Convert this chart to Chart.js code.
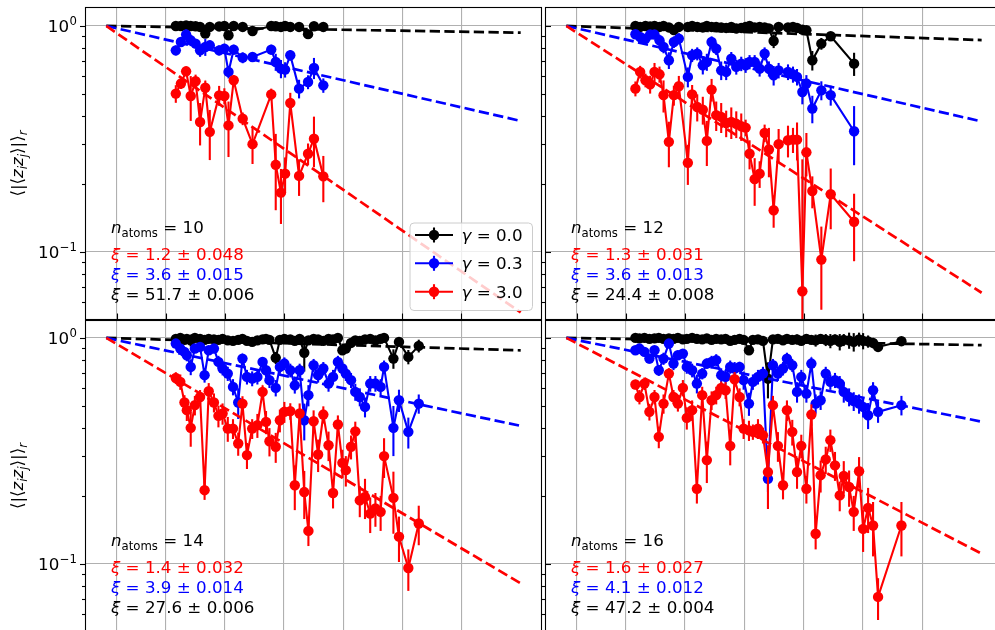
<!DOCTYPE html>
<html><head><meta charset="utf-8">
<script src="https://cdn.jsdelivr.net/npm/chart.js@4.4.1/dist/chart.umd.min.js"></script>
<style>
html,body{margin:0;padding:0;background:#fff;overflow:hidden;}
#fig{position:relative;width:995px;height:630px;overflow:hidden;background:#fff;}
canvas{position:absolute;}
</style></head><body>
<div id="fig">
<canvas id="c1" width="545" height="320" style="left:0;top:0"></canvas>
<canvas id="c3" width="545" height="312" style="left:0;top:320px"></canvas>
<canvas id="c2" width="475" height="320" style="left:535px;top:0"></canvas>
<canvas id="c4" width="475" height="312" style="left:535px;top:320px"></canvas>
</div>
<script>
// ---------- data ----------
const xTicks = [0.09, 0.5, 1.0, 1.5, 2.0, 2.5, 3.0];
const yMajorTicks = [0.1, 1];
const yMinorTicks = [0.06, 0.07, 0.08, 0.09, 0.2, 0.3, 0.4, 0.5, 0.6, 0.7, 0.8, 0.9];
const fitR = [0, 3.5];
const gammaLabels = ['0.0', '0.3', '3.0'];
const nAtoms = [10, 12, 14, 16];
const xiRed = ['1.2 ± 0.048', '1.3 ± 0.031', '1.4 ± 0.032', '1.6 ± 0.027'];
const xiBlue = ['3.6 ± 0.015', '3.6 ± 0.013', '3.9 ± 0.014', '4.1 ± 0.012'];
const xiBlack = ['51.7 ± 0.006', '24.4 ± 0.008', '27.6 ± 0.006', '47.2 ± 0.004'];

// panel 1 (n=10)
const p1Dist = [0.587,0.630,0.674,0.713,0.754,0.792,0.836,0.874,0.953,0.997,1.032,1.076,1.152,1.235,1.393,1.431,1.475,1.510,1.554,1.628,1.704,1.754,1.833];
const p1Black = [1.0,1.0,1.005,1.0,0.997,0.99,0.925,0.99,0.995,1.0,0.91,1.0,0.99,0.95,1.0,0.997,0.99,1.0,0.99,0.99,0.92,0.997,0.99];
const p1BlackErr = [0.02,0.03,0.04,0.02,0.03,0.02,0.03,0.02,0.02,0.02,0.04,0.03,0.02,0.02,0.02,0.03,0.02,0.02,0.02,0.02,0.02,0.02,0.02];
const p1Blue = [0.780,0.849,0.916,0.864,0.835,0.780,0.807,0.821,0.780,0.794,0.626,0.786,0.724,0.729,0.786,0.693,0.647,0.641,0.742,0.528,0.565,0.652,0.546];
const p1BlueErr = [0.04,0.04,0.05,0.05,0.04,0.05,0.07,0.04,0.04,0.04,0.04,0.04,0.04,0.03,0.04,0.06,0.06,0.05,0.04,0.05,0.04,0.07,0.04];
const p1Red = [0.502,0.556,0.630,0.490,0.569,0.376,0.533,0.340,0.493,0.490,0.363,0.575,0.389,0.300,0.498,0.243,0.183,0.222,0.456,0.217,0.272,0.317,0.216];
const p1RedErr = [0.045,0.03,0.03,0.11,0.04,0.08,0.04,0.085,0.05,0.04,0.1,0.03,0.025,0.055,0.03,0.09,0.05,0.04,0.05,0.04,0.03,0.08,0.05];
const p1FitEnd = [0.934, 0.38, 0.054];

// panel 2 (n=12)
const p2Dist = [0.582,0.622,0.667,0.706,0.743,0.785,0.819,0.864,0.906,0.948,1.024,1.060,1.103,1.150,1.184,1.224,1.263,1.305,1.347,1.390,1.432,1.474,1.511,1.544,1.587,1.629,1.671,1.707,1.747,1.789,1.868,1.910,1.944,1.989,2.023,2.073,2.149,2.228,2.425];
const p2Black = [1.0,0.99,1.0,0.995,1.0,0.99,1.0,0.985,0.96,0.99,0.99,1.0,0.99,0.985,1.0,0.99,0.99,0.985,0.98,0.99,0.975,0.98,0.99,1.0,0.985,0.99,0.985,0.975,0.858,0.99,0.985,0.99,0.98,0.963,0.957,0.705,0.835,0.9,0.681];
const p2BlackErr = [0.02,0.03,0.03,0.03,0.03,0.03,0.03,0.04,0.04,0.03,0.03,0.03,0.03,0.03,0.03,0.03,0.03,0.03,0.03,0.03,0.03,0.03,0.03,0.03,0.03,0.03,0.03,0.03,0.06,0.03,0.04,0.04,0.04,0.04,0.04,0.07,0.05,0.04,0.08];
const p2Blue = [0.919,0.894,0.879,0.916,0.916,0.864,0.807,0.705,0.849,0.879,0.595,0.742,0.754,0.670,0.693,0.849,0.794,0.636,0.626,0.717,0.659,0.681,0.670,0.693,0.693,0.647,0.754,0.647,0.605,0.636,0.626,0.611,0.595,0.510,0.556,0.431,0.519,0.494,0.342];
const p2BlueErr = [0.04,0.04,0.04,0.04,0.04,0.05,0.05,0.06,0.05,0.05,0.06,0.05,0.05,0.06,0.06,0.05,0.05,0.06,0.05,0.05,0.05,0.05,0.05,0.05,0.05,0.05,0.05,0.05,0.06,0.05,0.05,0.05,0.05,0.06,0.05,0.06,0.05,0.05,0.1];
const p2Red = [0.528,0.626,0.575,0.552,0.626,0.611,0.494,0.307,0.494,0.541,0.248,0.498,0.438,0.426,0.310,0.523,0.403,0.396,0.372,0.376,0.369,0.360,0.355,0.272,0.210,0.222,0.336,0.284,0.153,0.300,0.312,0.314,0.314,0.067,0.276,0.186,0.0925,0.180,0.136];
const p2RedErr = [0.04,0.04,0.04,0.05,0.06,0.05,0.08,0.07,0.05,0.06,0.05,0.05,0.06,0.06,0.07,0.06,0.06,0.06,0.05,0.06,0.05,0.05,0.03,0.04,0.05,0.03,0.03,0.07,0.025,0.05,0.05,0.04,0.06,0.19,0.06,0.03,0.037,0.054,0.045];
const p2FitEnd = [0.866, 0.378, 0.066];

// panel 3 (n=14)
const p3Dist = [0.587,0.625,0.660,0.680,0.713,0.748,0.792,0.830,0.865,0.909,0.947,0.982,1.026,1.070,1.114,1.150,1.188,1.232,1.276,1.320,1.349,1.378,1.431,1.466,1.504,1.554,1.592,1.633,1.672,1.707,1.751,1.789,1.833,1.877,1.915,1.956,1.994,2.023,2.067,2.103,2.141,2.185,2.229,2.273,2.317,2.346,2.425,2.472,2.551,2.639];
const p3Black = [0.99,1.0,0.98,0.99,0.975,1.0,0.99,0.98,0.99,0.985,0.98,0.99,0.975,0.97,0.98,0.99,0.97,0.96,0.975,0.985,0.99,0.98,0.816,0.98,0.99,0.985,0.97,0.99,0.86,0.975,0.99,0.985,0.97,0.99,0.985,1.0,0.882,0.897,0.95,0.975,0.97,0.985,0.99,0.975,0.99,1.0,0.81,0.96,0.824,0.922];
const p3BlackErr = [0.03,0.03,0.04,0.03,0.06,0.03,0.03,0.03,0.04,0.03,0.03,0.03,0.04,0.03,0.03,0.03,0.04,0.04,0.03,0.03,0.03,0.03,0.05,0.03,0.03,0.03,0.04,0.03,0.15,0.03,0.03,0.03,0.04,0.03,0.03,0.03,0.04,0.04,0.04,0.03,0.03,0.03,0.03,0.03,0.03,0.03,0.08,0.04,0.06,0.06];
const p3Blue = [0.944,0.897,0.867,0.838,0.744,0.897,0.912,0.684,0.882,0.897,0.783,0.732,0.695,0.607,0.518,0.810,0.672,0.661,0.672,0.783,0.719,0.650,0.601,0.744,0.770,0.719,0.617,0.719,0.432,0.558,0.757,0.684,0.732,0.628,0.672,0.783,0.732,0.695,0.650,0.577,0.548,0.495,0.628,0.628,0.607,0.744,0.400,0.530,0.384,0.512];
const p3BlueErr = [0.03,0.04,0.04,0.05,0.06,0.04,0.04,0.05,0.04,0.04,0.05,0.05,0.05,0.05,0.08,0.04,0.05,0.05,0.05,0.04,0.05,0.05,0.05,0.05,0.05,0.05,0.05,0.05,0.08,0.06,0.05,0.05,0.05,0.05,0.05,0.05,0.05,0.05,0.05,0.05,0.05,0.05,0.05,0.05,0.05,0.05,0.1,0.06,0.06,0.05];
const p3Red = [0.665,0.639,0.518,0.479,0.400,0.504,0.548,0.212,0.581,0.518,0.452,0.463,0.397,0.397,0.341,0.512,0.303,0.397,0.411,0.577,0.425,0.349,0.330,0.432,0.471,0.474,0.223,0.463,0.208,0.140,0.428,0.305,0.458,0.335,0.206,0.414,0.280,0.260,0.330,0.386,0.191,0.198,0.167,0.176,0.170,0.300,0.196,0.132,0.096,0.151];
const p3RedErr = [0.04,0.05,0.04,0.05,0.07,0.05,0.04,0.02,0.05,0.05,0.05,0.05,0.05,0.04,0.04,0.04,0.04,0.04,0.05,0.04,0.05,0.05,0.05,0.05,0.05,0.04,0.05,0.05,0.05,0.02,0.05,0.05,0.04,0.05,0.03,0.04,0.04,0.04,0.04,0.04,0.03,0.04,0.03,0.03,0.03,0.06,0.06,0.03,0.02,0.03];
const p3FitEnd = [0.881, 0.408, 0.082];

// panel 4 (n=16)
const p4Dist = [0.582,0.616,0.658,0.700,0.743,0.779,0.819,0.864,0.903,0.940,0.982,1.015,1.060,1.100,1.145,1.184,1.224,1.263,1.305,1.342,1.381,1.418,1.460,1.494,1.539,1.572,1.615,1.657,1.699,1.741,1.783,1.826,1.859,1.904,1.944,1.980,2.023,2.065,2.101,2.143,2.186,2.225,2.264,2.304,2.338,2.383,2.422,2.467,2.501,2.543,2.585,2.627,2.824];
const p4Black = [1.0,0.995,1.0,0.99,0.995,1.0,0.99,0.995,0.99,1.0,0.985,0.99,1.0,0.99,0.985,0.995,0.98,0.99,0.985,0.99,0.97,0.98,0.99,0.98,0.882,0.98,0.985,0.97,0.66,0.985,0.99,0.975,0.99,0.98,0.985,0.97,0.99,0.98,0.975,0.99,0.98,0.97,0.985,0.96,0.98,0.975,0.96,0.985,0.97,0.965,0.95,0.912,0.967];
const p4BlackErr = [0.02,0.02,0.03,0.03,0.02,0.03,0.03,0.03,0.03,0.03,0.04,0.03,0.03,0.03,0.03,0.04,0.03,0.03,0.04,0.03,0.04,0.03,0.03,0.04,0.04,0.03,0.03,0.04,0.12,0.03,0.04,0.04,0.03,0.04,0.05,0.04,0.05,0.04,0.06,0.05,0.06,0.07,0.05,0.08,0.06,0.08,0.09,0.07,0.08,0.06,0.05,0.04,0.03];
const p4Blue = [0.882,0.897,0.867,0.810,0.882,0.719,0.810,0.944,0.770,0.838,0.852,0.744,0.719,0.628,0.695,0.770,0.783,0.797,0.684,0.672,0.744,0.732,0.744,0.650,0.512,0.639,0.672,0.695,0.238,0.757,0.695,0.732,0.810,0.757,0.577,0.672,0.567,0.770,0.512,0.530,0.695,0.639,0.650,0.628,0.577,0.548,0.525,0.512,0.495,0.455,0.587,0.471,0.504];
const p4BlueErr = [0.04,0.04,0.04,0.04,0.04,0.04,0.05,0.04,0.05,0.04,0.04,0.05,0.05,0.06,0.04,0.04,0.05,0.05,0.05,0.05,0.05,0.05,0.04,0.06,0.06,0.05,0.05,0.05,0.03,0.05,0.05,0.05,0.05,0.05,0.06,0.05,0.05,0.05,0.05,0.05,0.05,0.05,0.05,0.05,0.06,0.05,0.05,0.05,0.05,0.06,0.05,0.05,0.05];
const p4Red = [0.622,0.548,0.628,0.471,0.548,0.365,0.512,0.695,0.548,0.512,0.601,0.443,0.479,0.215,0.558,0.288,0.530,0.558,0.601,0.587,0.333,0.656,0.548,0.397,0.390,0.384,0.397,0.371,0.255,0.504,0.333,0.223,0.479,0.384,0.255,0.333,0.215,0.458,0.136,0.247,0.290,0.353,0.273,0.201,0.245,0.219,0.170,0.257,0.143,0.177,0.148,0.0715,0.148];
const p4RedErr = [0.03,0.04,0.04,0.04,0.04,0.04,0.05,0.04,0.04,0.04,0.05,0.05,0.05,0.03,0.05,0.06,0.05,0.05,0.04,0.05,0.06,0.05,0.05,0.04,0.04,0.03,0.04,0.03,0.08,0.05,0.05,0.03,0.05,0.05,0.04,0.04,0.03,0.05,0.02,0.04,0.04,0.04,0.04,0.03,0.04,0.04,0.03,0.04,0.03,0.04,0.04,0.015,0.04];
const p4FitEnd = [0.929, 0.426, 0.111];

// ---------- styling ----------
const COLORS = ['#000000', '#0000ff', '#ff0000'];
const FF = '"DejaVu Sans", "Liberation Sans", sans-serif';
const FS = 16.7, SUB = 11.7;
function fnt(sz, it) { return (it ? 'italic ' : '') + sz + 'px ' + FF; }

function drawRuns(ctx, x, y, parts, color) {
  ctx.fillStyle = color; ctx.textAlign = 'left'; ctx.textBaseline = 'alphabetic';
  let cx = x;
  for (const p of parts) {
    ctx.font = p.f; ctx.fillText(p.t, cx, y + (p.dy || 0));
    cx += ctx.measureText(p.t).width;
  }
  return cx - x;
}
function runsWidth(ctx, parts) {
  let w = 0;
  for (const p of parts) { ctx.font = p.f; w += ctx.measureText(p.t).width; }
  return w;
}

const PANELS = {
  c1: {idx: 0, left: true, top: true, legend: true},
  c2: {idx: 1, left: false, top: true, legend: false},
  c3: {idx: 2, left: true, top: false, legend: false},
  c4: {idx: 3, left: false, top: false, legend: false}
};

function tickLabel(ctx, xr, y, sup) {
  ctx.fillStyle = '#000'; ctx.textAlign = 'left'; ctx.textBaseline = 'alphabetic';
  ctx.font = fnt(SUB, false); const ws = ctx.measureText(sup).width;
  ctx.font = fnt(FS, false); const wb = ctx.measureText('10').width;
  ctx.fillText('10', xr - ws - wb - 0.5, y + 6.5);
  ctx.font = fnt(SUB, false); ctx.fillText(sup, xr - ws, y - 0.5);
}

const deco = {
  id: 'deco',
  beforeDatasetDraw(chart, args) {
    const ds = chart.data.datasets[args.index];
    if (!ds.errs) return;
    const ctx = chart.ctx, a = chart.chartArea, xs = chart.scales.x, ys = chart.scales.y;
    ctx.save();
    ctx.beginPath(); ctx.rect(a.left, a.top, a.right - a.left, a.bottom - a.top); ctx.clip();
    ctx.strokeStyle = ds.borderColor; ctx.lineWidth = 2.1; ctx.lineCap = 'butt';
    ds.data.forEach((p, i) => {
      const e = ds.errs[i];
      const px = xs.getPixelForValue(p.x);
      const y1 = ys.getPixelForValue(p.y + e);
      const lo = p.y - e;
      const y2 = lo > 0 ? ys.getPixelForValue(lo) : a.bottom + 20;
      ctx.beginPath(); ctx.moveTo(px, y1); ctx.lineTo(px, y2); ctx.stroke();
    });
    ctx.restore();
  },
  afterDatasetsDraw(chart) {
    const P = PANELS[chart.canvas.id];
    const ctx = chart.ctx, a = chart.chartArea, xs = chart.scales.x, ys = chart.scales.y;
    ctx.save();
    // frame
    ctx.strokeStyle = '#000'; ctx.lineWidth = 1.1;
    ctx.strokeRect(a.left + 0.5, a.top + 0.5, a.right - a.left - 1, a.bottom - a.top - 1);
    // y ticks
    for (const v of yMajorTicks.concat(yMinorTicks)) {
      const major = yMajorTicks.includes(v);
      const py = Math.round(ys.getPixelForValue(v)) + 0.5;
      if (py < a.top || py > a.bottom) continue;
      ctx.beginPath();
      if (P.left) { const L = major ? 5 : 3; ctx.moveTo(a.left - L, py); ctx.lineTo(a.left, py); }
      else if (major) { ctx.moveTo(a.left, py); ctx.lineTo(a.left + 6, py); }
      else { ctx.moveTo(a.left - 4, py); ctx.lineTo(a.left, py); }
      ctx.stroke();
    }
    // x ticks (inward at bottom of top panels)
    if (P.top) {
      for (const v of xTicks) {
        const px = Math.round(xs.getPixelForValue(v)) + 0.5;
        ctx.beginPath(); ctx.moveTo(px, a.bottom - 6.5); ctx.lineTo(px, a.bottom); ctx.stroke();
      }
    }
    // tick labels + y title
    if (P.left) {
      tickLabel(ctx, a.left - 8, ys.getPixelForValue(1), '0');
      tickLabel(ctx, a.left - 8, ys.getPixelForValue(0.1), '\u22121');
      const parts = [
        {t: '\u27E8|\u27E8', f: fnt(FS, false)},
        {t: 'z', f: fnt(FS, true)}, {t: 'i', f: fnt(SUB, true), dy: 3.5},
        {t: 'z', f: fnt(FS, true)}, {t: 'j', f: fnt(SUB, true), dy: 3.5},
        {t: '\u27E9|\u27E9', f: fnt(FS, false)},
        {t: 'r', f: fnt(SUB, true), dy: 3.5}
      ];
      const w = runsWidth(ctx, parts);
      ctx.save();
      ctx.translate(23, (a.top + a.bottom) / 2);
      ctx.rotate(-Math.PI / 2);
      drawRuns(ctx, -w / 2, 0, parts, '#000');
      ctx.restore();
    }
    // annotations
    const k = P.idx, ax = a.left + 26, at = a.top;
    drawRuns(ctx, ax, at + 225.8, [
      {t: 'n', f: fnt(FS, true)}, {t: 'atoms', f: fnt(SUB, false), dy: 4},
      {t: ' = ' + nAtoms[k], f: fnt(FS, false)}], '#000000');
    drawRuns(ctx, ax, at + 253.2, [{t: '\u03BE', f: fnt(FS, true)}, {t: ' = ' + xiRed[k], f: fnt(FS, false)}], '#ff0000');
    drawRuns(ctx, ax, at + 272.8, [{t: '\u03BE', f: fnt(FS, true)}, {t: ' = ' + xiBlue[k], f: fnt(FS, false)}], '#0000ff');
    drawRuns(ctx, ax, at + 292.5, [{t: '\u03BE', f: fnt(FS, true)}, {t: ' = ' + xiBlack[k], f: fnt(FS, false)}], '#000000');
    // legend
    if (P.legend) {
      const bx = a.left + 325, by = a.top + 216, bw = 122.5, bh = 87.5, r = 4;
      ctx.beginPath();
      ctx.moveTo(bx + r, by); ctx.lineTo(bx + bw - r, by); ctx.arcTo(bx + bw, by, bx + bw, by + r, r);
      ctx.lineTo(bx + bw, by + bh - r); ctx.arcTo(bx + bw, by + bh, bx + bw - r, by + bh, r);
      ctx.lineTo(bx + r, by + bh); ctx.arcTo(bx, by + bh, bx, by + bh - r, r);
      ctx.lineTo(bx, by + r); ctx.arcTo(bx, by, bx + r, by, r); ctx.closePath();
      ctx.fillStyle = 'rgba(255,255,255,0.8)'; ctx.fill();
      ctx.strokeStyle = '#cccccc'; ctx.lineWidth = 1; ctx.stroke();
      const rows = [228, 256.3, 284.7];
      rows.forEach((ry, i) => {
        const cy = a.top + ry, c = COLORS[i];
        ctx.strokeStyle = c; ctx.fillStyle = c; ctx.lineWidth = 2.1;
        ctx.beginPath(); ctx.moveTo(a.left + 330, cy); ctx.lineTo(a.left + 368, cy); ctx.stroke();
        ctx.beginPath(); ctx.moveTo(a.left + 349, cy - 7.5); ctx.lineTo(a.left + 349, cy + 7.5); ctx.stroke();
        ctx.beginPath(); ctx.arc(a.left + 349, cy, 5.2, 0, Math.PI * 2); ctx.fill();
        drawRuns(ctx, a.left + 376.5, cy + 6, [{t: '\u03B3', f: fnt(FS, true)}, {t: ' = ' + gammaLabels[i], f: fnt(FS, false)}], '#000000');
      });
    }
    ctx.restore();
  }
};

function makeChart(id, dist, vals, errs, fitEnd, opt) {
  const datasets = [];
  const orders = [[6, 5], [4, 3], [2, 1]];
  for (let i = 0; i < 3; i++) {
    const c = COLORS[i];
    datasets.push({
      label: '\u03B3 = ' + gammaLabels[i],
      data: dist.map((x, j) => ({x: x, y: vals[i][j]})),
      errs: errs[i],
      borderColor: c, backgroundColor: c, borderWidth: 2.1,
      pointRadius: 5.2, pointHoverRadius: 5.2, pointBackgroundColor: c, pointBorderColor: c, pointBorderWidth: 0,
      tension: 0, order: orders[i][0]
    });
    datasets.push({
      label: 'fit ' + gammaLabels[i],
      data: fitR.map((x, j) => ({x: x, y: j === 0 ? 1 : fitEnd[i]})),
      borderColor: c, borderWidth: 2.7, borderDash: [10.3, 4.4], pointRadius: 0, pointHoverRadius: 0,
      tension: 0, order: orders[i][1]
    });
  }
  return new Chart(document.getElementById(id), {
    type: 'line',
    data: {datasets},
    plugins: [deco],
    options: {
      responsive: false, animation: false, devicePixelRatio: 1, events: [],
      layout: {autoPadding: false, padding: {top: opt.padTop, right: opt.padRight, left: 0, bottom: 0}},
      plugins: {legend: {display: false}, tooltip: {enabled: false}},
      scales: {
        x: {
          type: 'linear', min: -0.18, max: 3.68,
          ticks: {display: false},
          grid: {color: '#b0b0b0', lineWidth: 1.1, drawTicks: false},
          border: {display: false},
          afterBuildTicks: s => { s.ticks = xTicks.map(v => ({value: v})); },
          afterFit: s => { s.height = 0; }
        },
        y: {
          type: 'logarithmic', min: 0.05, max: opt.ymax,
          ticks: {display: false},
          grid: {
            color: c => (c.tick && yMajorTicks.includes(c.tick.value)) ? '#b0b0b0' : 'rgba(0,0,0,0)',
            lineWidth: 1.1, drawTicks: false
          },
          border: {display: false},
          afterBuildTicks: s => { s.ticks = yMajorTicks.concat(yMinorTicks).map(v => ({value: v})); },
          afterFit: s => { s.width = opt.yWidth; }
        }
      }
    }
  });
}

makeChart('c1', p1Dist, [p1Black, p1Blue, p1Red], [p1BlackErr, p1BlueErr, p1RedErr], p1FitEnd,
  {padTop: 7, padRight: 3, yWidth: 85, ymax: 1.213});
makeChart('c2', p2Dist, [p2Black, p2Blue, p2Red], [p2BlackErr, p2BlueErr, p2RedErr], p2FitEnd,
  {padTop: 7, padRight: 7, yWidth: 10, ymax: 1.213});
makeChart('c3', p3Dist, [p3Black, p3Blue, p3Red], [p3BlackErr, p3BlueErr, p3RedErr], p3FitEnd,
  {padTop: 0, padRight: 3, yWidth: 85, ymax: 1.2});
makeChart('c4', p4Dist, [p4Black, p4Blue, p4Red], [p4BlackErr, p4BlueErr, p4RedErr], p4FitEnd,
  {padTop: 0, padRight: 7, yWidth: 10, ymax: 1.2});
</script>
</body></html>
